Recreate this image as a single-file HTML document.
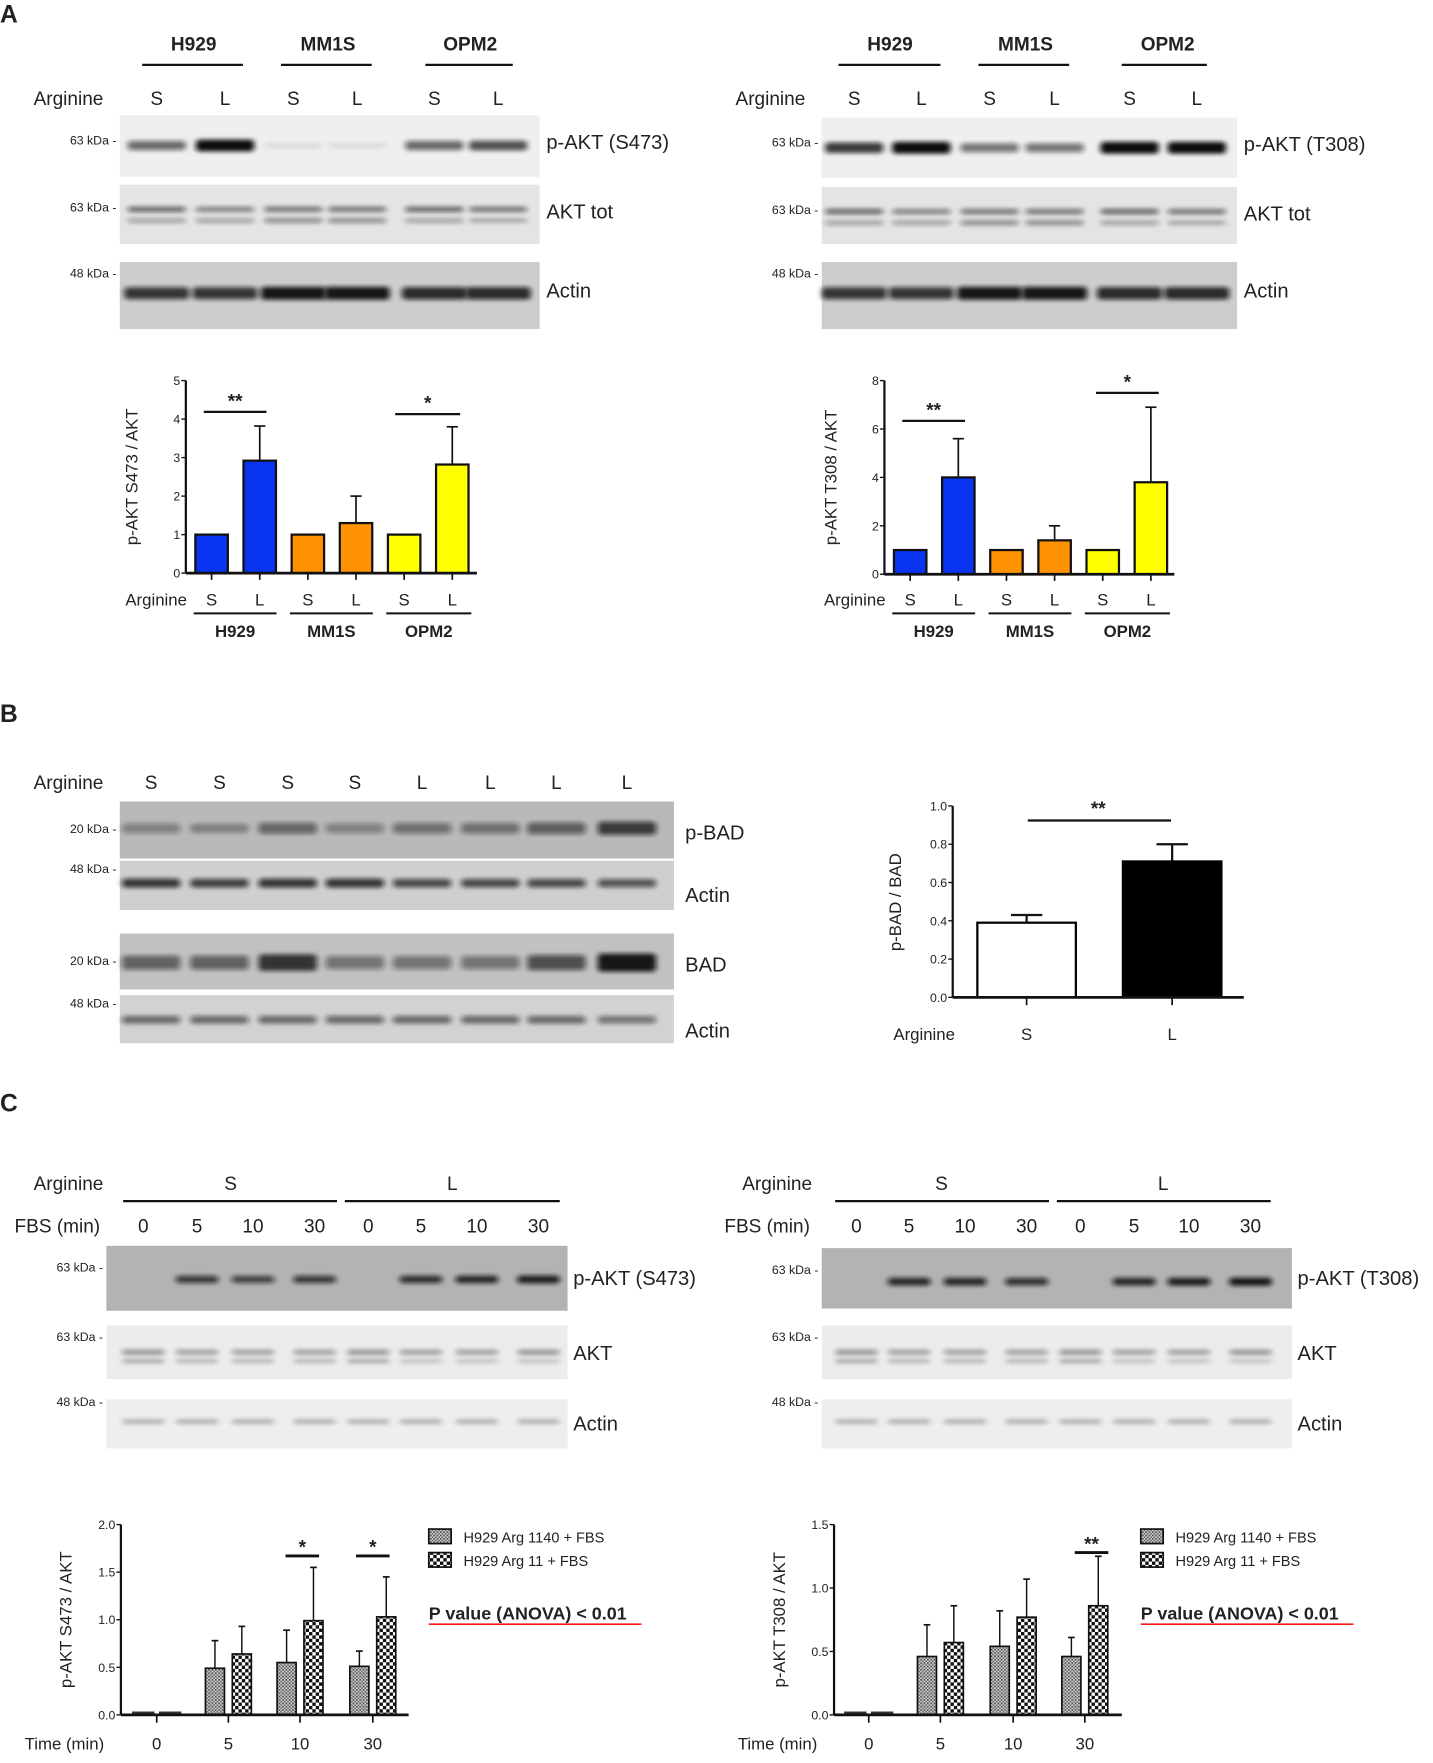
<!DOCTYPE html>
<html><head><meta charset="utf-8"><style>
html,body{margin:0;padding:0;background:#fff}
svg{display:block}
text{font-family:"Liberation Sans",Arial,sans-serif;fill:#222}
</style></head><body>
<svg id="fig" xmlns="http://www.w3.org/2000/svg" width="1433" height="1763" viewBox="0 0 1280 1575" preserveAspectRatio="none">
<defs>
<filter id="blur" x="-20%" y="-150%" width="140%" height="400%"><feGaussianBlur stdDeviation="2.5 2"/></filter>
<pattern id="dots" width="3" height="3" patternUnits="userSpaceOnUse"><rect width="3" height="3" fill="#d8d8d8"/><rect width="1.5" height="1.5" fill="#444"/><rect x="1.5" y="1.5" width="1.5" height="1.5" fill="#666"/></pattern>
<pattern id="check" width="6" height="6" patternUnits="userSpaceOnUse"><rect width="6" height="6" fill="#fff"/><rect width="3" height="3" fill="#111"/><rect x="3" y="3" width="3" height="3" fill="#111"/></pattern>
</defs>
<g id="root"></g>
</svg>
<script>
// ---------- chart data ----------
const aLeftCats = ["S","L","S","L","S","L"];
const aLeftVals = [1, 2.92, 1, 1.3, 1, 2.82];
const aLeftErr = [1, 3.82, 1, 2.0, 1, 3.8];
const aLeftTicks = [0,1,2,3,4,5];
const aRightVals = [1, 4.0, 1, 1.4, 1, 3.8];
const aRightErr = [1, 5.6, 1, 2.0, 1, 6.9];
const aRightTicks = [0,2,4,6,8];
const aColors = ["#0a35f0","#0a35f0","#ff9200","#ff9200","#ffff00","#ffff00"];
const aGroups = ["H929","MM1S","OPM2"];
const bCats = ["S","L"];
const bVals = [0.39, 0.71];
const bErr = [0.43, 0.80];
const bTicks = [0,0.2,0.4,0.6,0.8,1.0];
const cTimes = ["0","5","10","30"];
const cLeftGray = [0, 0.49, 0.55, 0.51];
const cLeftGrayErr = [0, 0.78, 0.89, 0.67];
const cLeftChk = [0, 0.64, 0.99, 1.03];
const cLeftChkErr = [0, 0.93, 1.55, 1.45];
const cLeftTicks = ["0.0","0.5","1.0","1.5","2.0"];
const cRightGray = [0, 0.46, 0.54, 0.46];
const cRightGrayErr = [0, 0.71, 0.82, 0.61];
const cRightChk = [0, 0.57, 0.77, 0.86];
const cRightChkErr = [0, 0.86, 1.07, 1.25];
const cRightTicks = ["0.0","0.5","1.0","1.5"];

const NS="http://www.w3.org/2000/svg";
const root=document.getElementById('root');
function el(tag,attrs,parent){const e=document.createElementNS(NS,tag);for(const k in attrs)e.setAttribute(k,attrs[k]);(parent||root).appendChild(e);return e;}
function txt(x,y,s,size,opts,parent){opts=opts||{};const t=el('text',{x:x,y:y,'font-size':size,'text-anchor':opts.anchor||'start','font-weight':opts.bold?'bold':'normal'},parent);if(opts.fill)t.setAttribute('fill',opts.fill);if(opts.rot)t.setAttribute('transform','rotate(-90 '+x+' '+y+')');t.textContent=s;return t;}
function line(x1,y1,x2,y2,w,parent,c){return el('line',{x1:x1,y1:y1,x2:x2,y2:y2,stroke:c||'#111','stroke-width':w||1.5},parent);}

// ---------- blots ----------
function blot(name,x,y,w,h,bg,lanes,bands){
  const g=el('g',{});
  
  
  el('rect',{x:x,y:y,width:w,height:h,fill:bg},g);
  bands.forEach(b=>{
    lanes.forEach((lx,i)=>{
      const v=b.v[i]; if(v<=0)return;
      const bw=b.w||52;
      const hh=(b.h||4)*(0.7+0.8*v);
      el('rect',{x:lx-bw/2,y:y+b.dy-hh/2,width:bw,height:hh,rx:3,fill:'#111','fill-opacity':Math.min(1,v),filter:'url(#blur)'},g);
    });
  });
  return g;
}
function kda(x,y,s){txt(x,y,s+' -',11,{anchor:'end'});}

txt(0,20,'A',22,{bold:true});
txt(0,645,'B',22,{bold:true});
txt(0,993,'C',22,{bold:true});

function panelAblots(ox,lanes,hdrX,lineSeg,labels,blotX,blotW,tops,pint,label1){
  aGroups.forEach((gname,i)=>{txt(hdrX[i],45,gname,17,{anchor:'middle',bold:true});line(lineSeg[i][0],58,lineSeg[i][1],58,2);});
  txt(ox,94,'Arginine',17);
  lanes.forEach((lx,i)=>txt(lx,94,aLeftCats[i],17,{anchor:'middle'}));
  blot('p-akt-blot',blotX,tops[0][0],blotW,tops[0][1],'#efefef',lanes,[{dy:27,v:pint,h:7}]);
  blot('akt-tot-blot',blotX,tops[1][0],blotW,tops[1][1],'#e4e4e4',lanes,[{dy:22,v:[.6,.5,.55,.55,.6,.55],h:4},{dy:32,v:[.35,.35,.45,.45,.35,.3],h:4}]);
  blot('actin-blot',blotX,tops[2][0],blotW,tops[2][1],'#cdcdcd',lanes,[{dy:28,v:[.8,.8,.95,.95,.85,.85],h:8,w:58}]);
  kda(blotX-3,tops[0][0]+26,'63 kDa');kda(blotX-3,tops[1][0]+24,'63 kDa');kda(blotX-3,tops[2][0]+14,'48 kDa');
  txt(blotX+blotW+6,tops[0][0]+30,label1,18);
  txt(blotX+blotW+6,tops[1][0]+30,'AKT tot',18);
  txt(blotX+blotW+6,tops[2][0]+32,'Actin',18);
}
panelAblots(30,[140,201,262,319,388,445],[173,293,420],[[127,217],[251,332],[380,458]],null,107,375,[[103,55],[165,53],[234,60]],[.6,1,.08,.08,.6,.7],'p-AKT (S473)');
panelAblots(657,[763,823,884,942,1009,1069],[795,916,1043],[[749,840],[874,955],[1002,1078]],null,734,371,[[105,54],[167,51],[234,60]],[.8,1,.55,.55,1,1],'p-AKT (T308)');

function aChart(name,ax,y0,ytop,ticks,vals,errs,axEnd,centers,ytitle,groupLines,sig){
  const g=el('g',{});
  
  
  const maxT=ticks[ticks.length-1];
  const Y=v=>y0-(v/maxT)*(y0-ytop);
  ticks.forEach(t=>{line(ax-4,Y(t),ax,Y(t),1.2,g);txt(ax-5,Y(t)+4,String(t),11,{anchor:'end'},g);});
  line(ax,ytop,ax,y0,2,g);
  vals.forEach((v,i)=>{
    const cx=centers[i];
    line(cx,Y(v),cx,Y(errs[i]),1.5,g);line(cx-5,Y(errs[i]),cx+5,Y(errs[i]),1.5,g);
    const r=el('rect',{x:cx-14.5,y:Y(v),width:29,height:y0-Y(v),fill:aColors[i],stroke:'#111','stroke-width':2},g);
    
    
    line(cx,y0,cx,y0+6,1.5,g);
    txt(cx,541,aLeftCats[i],15,{anchor:'middle'},g);
  });
  line(ax,y0,axEnd,y0,2.5,g);
  txt(centers[0]-22,541,'Arginine',15,{anchor:'end'},g);
  groupLines.forEach((gl,i)=>{line(gl[0],548,gl[1],548,1.8,g);txt((gl[0]+gl[1])/2,569,aGroups[i],15,{anchor:'middle',bold:true},g);});
  txt(ax-43,(ytop+y0)/2,ytitle,15,{anchor:'middle',rot:true},g);
  sig.forEach(s=>{line(s[0],s[2],s[1],s[2],2,g);txt((s[0]+s[1])/2,s[2]-4,s[3],17,{anchor:'middle',bold:true},g);});
}
aChart('chart-akt-s473',166,512,340,aLeftTicks,aLeftVals,aLeftErr,426,[189,232,275,318,361,404],'p-AKT S473 / AKT',[[173,247],[259,333],[345,421]],[[182,238,368,'**'],[353,411,370,'*']]);
aChart('chart-akt-t308',790,513,340,aRightTicks,aRightVals,aRightErr,1049,[813,856,899,942,985,1028],'p-AKT T308 / AKT',[[797,871],[883,957],[969,1045]],[[806,862,376,'**'],[979,1035,351,'*']]);

const bLanes=[135,196,257,317,377,438,497,560];
txt(30,705,'Arginine',17);
["S","S","S","S","L","L","L","L"].forEach((s,i)=>txt(bLanes[i],705,s,17,{anchor:'middle'}));
blot('p-bad-blot',107,716,495,51,'#b9b9b9',bLanes,[{dy:24,v:[.35,.3,.5,.35,.45,.45,.55,.75],h:9}]);
blot('actin-blot-b1',107,769,495,44,'#cfcfcf',bLanes,[{dy:20,v:[.8,.75,.8,.8,.7,.7,.7,.65],h:6}]);
blot('bad-blot',107,834,495,50,'#c1c1c1',bLanes,[{dy:26,v:[.55,.55,.8,.45,.45,.45,.65,.95],h:11}]);
blot('actin-blot-b2',107,889,495,43,'#d2d2d2',bLanes,[{dy:22,v:[.55,.55,.55,.55,.55,.55,.55,.5],h:6}]);
kda(104,744,'20 kDa');kda(104,780,'48 kDa');kda(104,862,'20 kDa');kda(104,900,'48 kDa');
txt(612,750,'p-BAD',18);txt(612,806,'Actin',18);txt(612,868,'BAD',18);txt(612,927,'Actin',18);

(function(){
  const g=el('g',{});
  
  
  const ax=851,y0=891,yt=720;
  const Y=v=>y0-v*(y0-yt);
  bTicks.forEach(t=>{line(ax-4,Y(t),ax,Y(t),1.2,g);txt(ax-5,Y(t)+4,t.toFixed(1),11,{anchor:'end'},g);});
  line(ax,yt,ax,y0,2,g);
  const cx=[917,1047],fills=['#fff','#000'];
  bVals.forEach((v,i)=>{
    line(cx[i],Y(v),cx[i],Y(bErr[i]),2,g);line(cx[i]-14,Y(bErr[i]),cx[i]+14,Y(bErr[i]),2,g);
    const r=el('rect',{x:cx[i]-44,y:Y(v),width:88,height:y0-Y(v),fill:fills[i],stroke:'#000','stroke-width':2},g);
    
    
    line(cx[i],y0,cx[i],y0+7,1.5,g);
    txt(cx[i],929,bCats[i],15,{anchor:'middle'},g);
  });
  line(ax,y0,1111,y0,2.5,g);
  txt(798,929,'Arginine',15,{},g);
  txt(805,806,'p-BAD / BAD',15,{anchor:'middle',rot:true},g);
  line(918,733,1046,733,2,g);txt(981,728,'**',17,{anchor:'middle',bold:true},g);
})();

function panelCblots(ox,fx,sX,lX,segs,lanes,bx,bw,pint,label,tops){
  txt(ox,1063,'Arginine',17);txt(sX,1063,'S',17,{anchor:'middle'});txt(lX,1063,'L',17,{anchor:'middle'});
  segs.forEach(s=>line(s[0],1073,s[1],1073,2));
  txt(fx,1101,'FBS (min)',17);
  ["0","5","10","30","0","5","10","30"].forEach((s,i)=>txt(lanes[i],1101,s,17,{anchor:'middle'}));
  blot('p-akt-blot-c',bx,tops[0][0],bw,tops[0][1],'#b3b3b3',lanes,[{dy:30,v:pint,h:5,w:38}]);
  blot('akt-blot-c',bx,tops[1][0],bw,tops[1][1],'#ececec',lanes,[{dy:24,v:[.45,.4,.4,.4,.45,.4,.4,.45],h:4,w:38},{dy:32,v:[.3,.25,.25,.25,.3,.2,.2,.2],h:4,w:38}]);
  blot('actin-blot-c',bx,tops[2][0],bw,tops[2][1],'#eeeeee',lanes,[{dy:20,v:[.25,.25,.25,.25,.25,.25,.25,.25],h:5,w:38}]);
  kda(bx-3,tops[0][0]+23,'63 kDa');kda(bx-3,tops[1][0]+14,'63 kDa');kda(bx-3,tops[2][0]+6,'48 kDa');
  txt(bx+bw+5,1148,label,18);txt(bx+bw+5,1215,'AKT',18);txt(bx+bw+5,1278,'Actin',18);
}
panelCblots(30,13,206,404,[[110,301],[308,500]],[128,176,226,281,329,376,426,481],95,412,[0,.75,.7,.75,0,.8,.85,.9],'p-AKT (S473)',[[1113,58],[1184,48],[1250,44]]);
panelCblots(663,647,841,1039,[[746,937],[944,1135]],[765,812,862,917,965,1013,1062,1117],734,420,[0,.85,.85,.8,0,.85,.9,.95],'p-AKT (T308)',[[1115,54],[1184,48],[1250,44]]);

function cChart(name,ax,y0,yt,ticks,gray,grayE,chk,chkE,centers,ytitle,lx,sig){
  const g=el('g',{});
  
  
  const maxT=parseFloat(ticks[ticks.length-1]);
  const Y=v=>y0-(v/maxT)*(y0-yt);
  ticks.forEach(t=>{const v=parseFloat(t);line(ax-4,Y(v),ax,Y(v),1.2,g);txt(ax-5,Y(v)+4,t,11,{anchor:'end'},g);});
  line(ax,yt,ax,y0,2,g);
  centers.forEach((cx,i)=>{
    [[gray,grayE,'url(#dots)',-12],[chk,chkE,'url(#check)',12]].forEach(([vals,errs,fill,off])=>{
      const bx=cx+off;
      if(vals[i]>0){
        line(bx,Y(vals[i]),bx,Y(errs[i]),1.3,g);line(bx-3,Y(errs[i]),bx+3,Y(errs[i]),1.5,g);
        const r=el('rect',{x:bx-8.5,y:Y(vals[i]),width:17,height:y0-Y(vals[i]),fill:fill,stroke:'#111','stroke-width':1.5},g);
        
        
      } else {
        const r=el('rect',{x:bx-10,y:y0-3,width:20,height:3,fill:'#333'},g);
        
        
      }
    });
    line(cx,y0,cx,y0+7,1.5,g);
    txt(cx,1563,cTimes[i],15,{anchor:'middle'},g);
  });
  line(ax,y0,ax+257,y0,2.5,g);
  txt(ax-86,1563,'Time (min)',15,{},g);
  txt(ax-44,(yt+y0)/2,ytitle,15,{anchor:'middle',rot:true},g);
  sig.forEach(s=>{line(s[0],s[2],s[1],s[2],2.5,g);txt((s[0]+s[1])/2,s[2]-2,s[3],17,{anchor:'middle',bold:true},g);});
  const lg=el('g',{},g);
  
  
  el('rect',{x:lx,y:1366,width:20,height:13,fill:'url(#dots)',stroke:'#111','stroke-width':1.5},lg);
  txt(lx+31,1378,'H929 Arg 1140 + FBS',13,{},lg);
  el('rect',{x:lx,y:1387,width:20,height:13,fill:'url(#check)',stroke:'#111','stroke-width':1.5},lg);
  txt(lx+31,1399,'H929 Arg 11 + FBS',13,{},lg);
  const p=txt(lx,1447,'P value (ANOVA) < 0.01',16,{bold:true,fill:'#ff1a1a'},g);
  
  line(lx,1451,lx+190,1451,1.5,g,'#ff1a1a');
}
cChart('chart-c-s473',108,1532,1362,cLeftTicks,cLeftGray,cLeftGrayErr,cLeftChk,cLeftChkErr,[140,204,268,333],'p-AKT S473 / AKT',383,[[255,285,1390,'*'],[318,348,1390,'*']]);
cChart('chart-c-t308',745,1532,1362,cRightTicks,cRightGray,cRightGrayErr,cRightChk,cRightChkErr,[776,840,905,969],'p-AKT T308 / AKT',1019,[[960,990,1387,'**']]);
</script>
</body></html>
